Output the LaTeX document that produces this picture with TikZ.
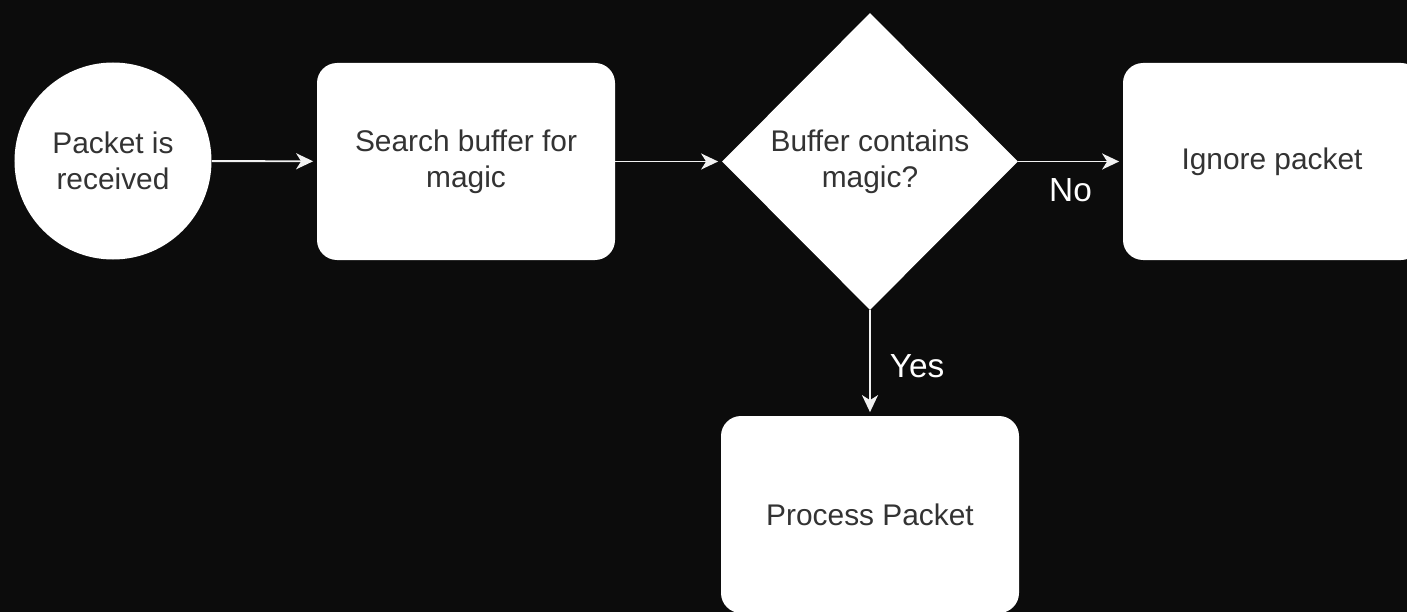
\documentclass[tikz,border=0pt]{standalone}
\usepackage{fontspec}
\setmainfont{Liberation Sans}
\usepackage{xcolor}
\usepackage{tikz}
\usetikzlibrary{shapes.geometric, arrows.meta, positioning}
\definecolor{flowdark}{HTML}{0C0C0C}
\definecolor{flowtext}{HTML}{333333}
\definecolor{flowline}{HTML}{F2F2F2}

\tikzset{
  flownode/.style={fill=white, text=flowtext, align=center, inner sep=0pt, font=\fontsize{17}{20.5}\selectfont},
  flowbox/.style={flownode, rounded corners=0.4cm, minimum width=5.96cm, minimum height=3.94cm},
  flowstart/.style={flownode, circle, minimum size=3.94cm},
  flowcheck/.style={flownode, diamond, minimum width=5.92cm, minimum height=5.94cm},
  flowarrow/.style={flowline, line width=1.1pt, shorten >=2pt, -{Stealth[length=0.34cm, width=0.32cm, inset=0.1cm]}},
  flowlabel/.style={text=white, inner sep=0pt, font=\fontsize{19}{19}\selectfont}
}

\begin{document}
\begin{tikzpicture}
  % Page frame and dark background
  \useasboundingbox (0,0) rectangle (28.14,-12.24);
  \fill[flowdark] (0,0) rectangle (28.14,-12.24);

  % Top row: start, search, decision, ignore
  \node[flowstart] (received) at (2.26,-3.22) {Packet is\\received};
  \node[flowbox] (search) at (9.32,-3.23) {Search buffer for\\magic};
  \node[flowcheck] (contains) at (17.4,-3.23) {Buffer contains\\magic?};
  \node[flowbox] (ignore) at (25.44,-3.23) {Ignore packet};

  % Bottom: magic found
  \node[flowbox] (process) at (17.4,-10.29) {Process Packet};

  % Connectors
  \draw[flowarrow] (received) -- (search);
  \draw[flowarrow] (search) -- (contains);
  \draw[flowarrow] (contains) -- node[flowlabel, yshift=-0.58cm] (no) {No} (ignore);
  \draw[flowarrow] (contains) -- node[flowlabel, xshift=0.94cm, yshift=-0.07cm] (yes) {Yes} (process);
\end{tikzpicture}
\end{document}
